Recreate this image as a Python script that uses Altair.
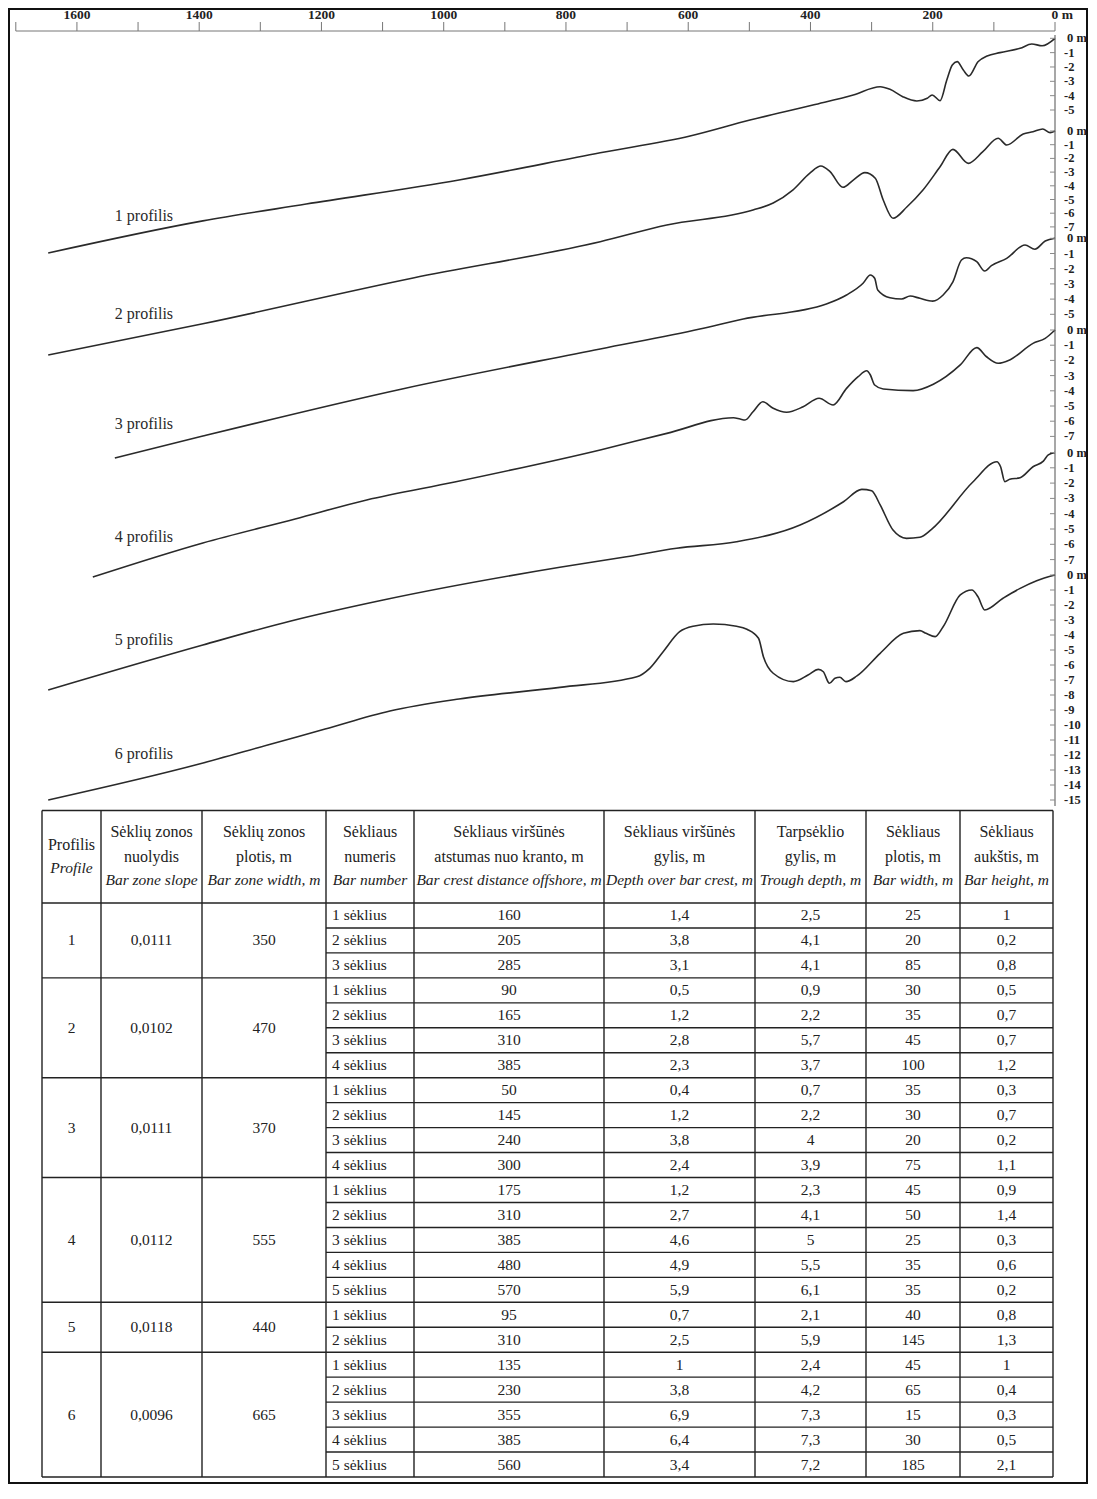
import altair as alt
import pandas as pd

FONT = "Liberation Serif"
INK = "#222222"
W, H = 1080, 1476

# ---------------- profile data: distance offshore (m) and depth (m) ----------------
PROFILE_NAMES = ["1 profilis", "2 profilis", "3 profilis", "4 profilis", "5 profilis", "6 profilis"]

P1_DIST = [1647, 1394, 1225, 975, 744, 597, 499, 396, 330, 286, 270, 249, 226, 209, 201, 188, 177, 168, 160, 150, 141, 126, 111, 90, 57, 38, 21, 0]
P1_DEPTH = [14.97, 12.73, 11.56, 9.88, 7.98, 6.81, 5.70, 4.65, 3.95, 3.38, 3.56, 4.07, 4.37, 4.18, 3.95, 4.35, 2.91, 1.86, 1.63, 2.21, 2.63, 1.63, 1.23, 1.0, 0.70, 0.40, 0.52, 0]

P2_DIST = [1647, 1394, 1050, 744, 635, 494, 461, 429, 401, 383, 368, 347, 330, 311, 294, 281, 265, 242, 216, 188, 167, 142, 118, 93, 79, 52, 36, 20, 8, 0]
P2_DEPTH = [16.35, 14.07, 10.73, 8.08, 6.86, 5.77, 5.26, 4.31, 3.07, 2.55, 2.97, 4.11, 3.58, 3.04, 3.45, 5.04, 6.37, 5.53, 4.31, 2.61, 1.34, 2.36, 1.51, 0.53, 1.02, 0.22, 0.05, -0.15, 0.12, 0]

P3_DIST = [1538, 1394, 1068, 744, 581, 510, 374, 341, 314, 302, 295, 290, 270, 251, 237, 221, 200, 183, 167, 153, 145, 128, 115, 104, 79, 49, 33, 16, 0]
P3_DEPTH = [14.45, 13.01, 9.91, 7.28, 5.97, 5.31, 4.32, 3.73, 2.96, 2.41, 2.63, 3.40, 3.91, 3.99, 3.80, 3.95, 4.13, 3.73, 2.86, 1.43, 1.28, 1.54, 2.15, 1.80, 1.32, 0.44, 0.72, 0.18, 0]

P4_DIST = [1574, 1394, 1243, 1126, 982, 744, 635, 526, 515, 507, 494, 478, 461, 439, 412, 386, 363, 341, 322, 308, 302, 295, 281, 232, 199, 155, 128, 112, 93, 74, 36, 16, 0]
P4_DEPTH = [16.25, 14.01, 12.43, 11.18, 10.0, 7.89, 6.80, 5.77, 5.86, 5.92, 5.38, 4.72, 5.15, 5.41, 5.05, 4.49, 4.93, 3.84, 3.07, 2.68, 2.96, 3.62, 3.88, 3.99, 3.57, 2.30, 1.16, 1.76, 2.19, 1.97, 0.88, 0.55, 0]

P5_DIST = [1647, 1394, 1250, 1099, 810, 701, 619, 521, 417, 346, 316, 300, 286, 265, 243, 221, 202, 134, 95, 89, 82, 74, 57, 36, 19, 11, 0]
P5_DEPTH = [15.52, 12.58, 11.01, 9.64, 7.50, 6.81, 6.26, 5.83, 4.74, 3.22, 2.41, 2.50, 3.43, 5.07, 5.61, 5.54, 5.02, 1.91, 0.60, 0.93, 1.91, 1.75, 1.65, 0.93, 0.56, 0.16, 0]

P6_DIST = [1647, 1400, 1288, 1194, 1088, 975, 810, 684, 663, 641, 614, 592, 559, 521, 504, 485, 477, 461, 428, 404, 387, 379, 369, 360, 352, 342, 324, 286, 248, 221, 211, 196, 183, 155, 136, 126, 115, 85, 57, 30, 0]
P6_DEPTH = [15.0, 12.6, 11.33, 10.27, 9.07, 8.27, 7.49, 6.78, 6.22, 5.11, 3.78, 3.42, 3.27, 3.42, 3.62, 4.22, 5.45, 6.55, 7.11, 6.67, 6.29, 6.45, 7.22, 6.89, 6.82, 7.11, 6.73, 5.22, 3.89, 3.71, 3.89, 4.11, 3.45, 1.33, 1.0, 1.45, 2.33, 1.55, 0.89, 0.38, 0]

PROFILES = [(P1_DIST, P1_DEPTH), (P2_DIST, P2_DEPTH), (P3_DIST, P3_DEPTH),
            (P4_DIST, P4_DEPTH), (P5_DIST, P5_DEPTH), (P6_DIST, P6_DEPTH)]

DEPTH_TICK_MAX = [5, 7, 5, 7, 7, 15]
NAME_DIST = [1538, 1538, 1538, 1538, 1538, 1538]
NAME_DEPTH = [12.39, 13.36, 12.22, 13.62, 12.25, 11.93]

DIST_TICKS = [1700, 1600, 1500, 1400, 1300, 1200, 1100, 1000, 900, 800, 700, 600, 500, 400, 300, 200, 100, 0]
DIST_LABELS = [1600, 1400, 1200, 1000, 800, 600, 400, 200]

# ---------------- table data ----------------
TAB_PROFILE = ["1", "2", "3", "4", "5", "6"]
TAB_SLOPE = ["0,0111", "0,0102", "0,0111", "0,0112", "0,0118", "0,0096"]
TAB_ZONE_W = ["350", "470", "370", "555", "440", "665"]
BARS_PER_PROFILE = [3, 4, 4, 5, 2, 5]
BAR_DIST = ["160", "205", "285", "90", "165", "310", "385", "50", "145", "240", "300",
            "175", "310", "385", "480", "570", "95", "310", "135", "230", "355", "385", "560"]
BAR_DEPTH = ["1,4", "3,8", "3,1", "0,5", "1,2", "2,8", "2,3", "0,4", "1,2", "3,8", "2,4",
             "1,2", "2,7", "4,6", "4,9", "5,9", "0,7", "2,5", "1", "3,8", "6,9", "6,4", "3,4"]
TROUGH = ["2,5", "4,1", "4,1", "0,9", "2,2", "5,7", "3,7", "0,7", "2,2", "4", "3,9",
          "2,3", "4,1", "5", "5,5", "6,1", "2,1", "5,9", "2,4", "4,2", "7,3", "7,3", "7,2"]
BAR_W = ["25", "20", "85", "30", "35", "45", "100", "35", "30", "20", "75",
         "45", "50", "25", "35", "35", "40", "145", "45", "65", "15", "30", "185"]
BAR_H = ["1", "0,2", "0,8", "0,5", "0,7", "0,7", "1,2", "0,3", "0,7", "0,2", "1,1",
         "0,9", "1,4", "0,3", "0,6", "0,2", "0,8", "1,3", "1", "0,4", "0,3", "0,5", "2,1"]

HEAD_L1 = ["Sėklių zonos", "Sėklių zonos", "Sėkliaus", "Sėkliaus viršūnės", "Sėkliaus viršūnės",
           "Tarpsėklio", "Sėkliaus", "Sėkliaus"]
HEAD_L2 = ["nuolydis", "plotis, m", "numeris", "atstumas nuo kranto, m", "gylis, m",
           "gylis, m", "plotis, m", "aukštis, m"]
HEAD_EN = ["Bar zone slope", "Bar zone width, m", "Bar number", "Bar crest distance offshore, m",
           "Depth over bar crest, m", "Trough depth, m", "Bar width, m", "Bar height, m"]

# ---------------- layout (pixels inside the chart) ----------------
X_RANGE = [1047, 7.8]              # where 0 m and 1700 m sit
ZERO_PX = [30.3, 123, 230.3, 322, 444.5, 567]
PX_PER_M = [14.34, 13.7, 15.2, 15.2, 15.3, 15.0]
COL_EDGES = [34, 93, 194, 318, 406, 596, 747, 858, 952, 1045]
ROW_EDGES = [802.5, 895, 1469]

xs = alt.Scale(domain=[0, 1700], range=X_RANGE, nice=False, zero=False)


def X(field):
    return alt.X(field, scale=xs, axis=None)


# ---- top distance axis ----
tick_df = pd.DataFrame({"d": DIST_TICKS})
lab_df = pd.DataFrame({"d": DIST_LABELS, "t": [str(v) for v in DIST_LABELS]})
zero_df = pd.DataFrame({"d": [0], "t": ["0 m"]})
axis_line_df = pd.DataFrame({"a": [max(DIST_TICKS)], "b": [0]})

top_line = alt.Chart(axis_line_df).mark_rule(color="#777777", strokeWidth=1).encode(
    x=X("a:Q"), x2="b:Q", y=alt.value(23))
top_ticks = alt.Chart(tick_df).mark_rule(color="#777777", strokeWidth=1).encode(
    x=X("d:Q"), y=alt.value(14), y2=alt.value(23))
top_labels = alt.Chart(lab_df).mark_text(font=FONT, fontSize=13.5, fontWeight="bold", color=INK,
                                         baseline="middle", align="center").encode(
    x=X("d:Q"), y=alt.value(6.5), text="t:N")
top_zero = alt.Chart(zero_df).mark_text(font=FONT, fontSize=13.5, fontWeight="bold", color=INK,
                                        baseline="middle", align="left", dx=-3.5).encode(
    x=X("d:Q"), y=alt.value(6.5), text="t:N")
right_line = alt.Chart(axis_line_df).mark_rule(color="#8a8a8a", strokeWidth=1.5).encode(
    x=X("b:Q"), y=alt.value(27), y2=alt.value(798))

layers = [top_line, top_ticks, top_labels, top_zero, right_line]

for i, (dist, depth) in enumerate(PROFILES):
    ys = alt.Scale(domain=[0, 20], range=[ZERO_PX[i], ZERO_PX[i] + 20 * PX_PER_M[i]],
                   nice=False, zero=False)
    Y = lambda f, ys=ys: alt.Y(f, scale=ys, axis=None)
    pdf = pd.DataFrame({"dist": dist, "depth": depth})
    n = DEPTH_TICK_MAX[i]
    tdf = pd.DataFrame({"dep": list(range(0, n + 1))})
    tdf["t"] = ["0 m" if v == 0 else "-" + str(v) for v in tdf["dep"]]
    line = alt.Chart(pdf).mark_line(color="#2a2a2a", strokeWidth=1.6, interpolate="monotone").encode(
        x=X("dist:Q"), y=Y("depth:Q"), order=alt.Order("dist:Q", sort="descending"))
    ticks = alt.Chart(tdf).mark_rule(color="#8a8a8a", strokeWidth=1).encode(
        x=alt.value(1042), x2=alt.value(1047), y=Y("dep:Q"))
    lab0 = alt.Chart(tdf[tdf["dep"] == 0]).mark_text(
        font=FONT, fontSize=12.5, fontWeight="bold", color=INK, align="left", baseline="middle", dx=12).encode(
        x=alt.value(1047), y=Y("dep:Q"), text="t:N")
    labn = alt.Chart(tdf[tdf["dep"] > 0]).mark_text(
        font=FONT, fontSize=12.5, fontWeight="bold", color=INK, align="left", baseline="middle", dx=9).encode(
        x=alt.value(1047), y=Y("dep:Q"), text="t:N")
    ndf = pd.DataFrame({"dist": [NAME_DIST[i]], "depth": [NAME_DEPTH[i]], "t": [PROFILE_NAMES[i]]})
    name = alt.Chart(ndf).mark_text(font=FONT, fontSize=16, color="#2a2a2a", align="left",
                                    baseline="middle").encode(
        x=X("dist:Q"), y=Y("depth:Q"), text="t:N")
    layers.append(alt.layer(line, ticks, lab0, labn, name))

profiles_all = alt.layer(*layers).resolve_scale(y="independent")

# ---------------- table ----------------
tx = alt.Scale(domain=list(range(len(COL_EDGES))), range=COL_EDGES, nice=False, zero=False)
ty = alt.Scale(domain=[0, 1, 1 + sum(BARS_PER_PROFILE)], range=ROW_EDGES, nice=False, zero=False)
TX = lambda f: alt.X(f, scale=tx, axis=None)
TY = lambda f: alt.Y(f, scale=ty, axis=None)

nrows = sum(BARS_PER_PROFILE)
starts = []
s = 0
for n in BARS_PER_PROFILE:
    starts.append(s)
    s += n

# grid lines
h_rows = []
for r in range(0, nrows + 1):
    full = (r in starts) or r == nrows
    h_rows.append({"x0": 0 if full else 3, "x1": 9, "y": 1 + r})
h_rows.append({"x0": 0, "x1": 9, "y": 0})
hdf = pd.DataFrame(h_rows)
vdf = pd.DataFrame({"x": list(range(10)), "y0": [0] * 10, "y1": [1 + nrows] * 10})

hlines = alt.Chart(hdf).mark_rule(color=INK, strokeWidth=1.4).encode(
    x=TX("x0:Q"), x2="x1:Q", y=TY("y:Q"))
vlines = alt.Chart(vdf).mark_rule(color=INK, strokeWidth=1.4).encode(
    x=TX("x:Q"), y=TY("y0:Q"), y2="y1:Q")

# header text
head_rows = [{"cx": 0.5, "cy": 0.376, "t": "Profilis", "it": False},
             {"cx": 0.5, "cy": 0.624, "t": "Profile", "it": True}]
for c in range(8):
    head_rows.append({"cx": c + 1.5, "cy": 0.237, "t": HEAD_L1[c], "it": False})
    head_rows.append({"cx": c + 1.5, "cy": 0.505, "t": HEAD_L2[c], "it": False})
    head_rows.append({"cx": c + 1.5, "cy": 0.753, "t": HEAD_EN[c], "it": True})
head_df = pd.DataFrame(head_rows)
head_norm = alt.Chart(head_df[~head_df["it"]]).mark_text(
    font=FONT, fontSize=16, color=INK, align="center", baseline="middle").encode(
    x=TX("cx:Q"), y=TY("cy:Q"), text="t:N")
head_ital = alt.Chart(head_df[head_df["it"]]).mark_text(
    font=FONT, fontSize=15.5, fontStyle="italic", color=INK, align="center", baseline="middle").encode(
    x=TX("cx:Q"), y=TY("cy:Q"), text="t:N")

# merged group cells
grp_rows = []
for g in range(len(TAB_PROFILE)):
    cy = 1 + starts[g] + BARS_PER_PROFILE[g] / 2
    grp_rows += [{"cx": 0.5, "cy": cy, "t": TAB_PROFILE[g]},
                 {"cx": 1.5, "cy": cy, "t": TAB_SLOPE[g]},
                 {"cx": 2.5, "cy": cy, "t": TAB_ZONE_W[g]}]

# bar rows
bar_no = [str(j + 1) + " sėklius" for n in BARS_PER_PROFILE for j in range(n)]
body_rows = []
num_rows = []
for r in range(nrows):
    cy = 1 + r + 0.5
    body_rows.append({"cx": 3, "cy": cy, "t": bar_no[r]})
    for c, col in zip([4, 5, 6, 7, 8], [BAR_DIST, BAR_DEPTH, TROUGH, BAR_W, BAR_H]):
        num_rows.append({"cx": c + 0.5, "cy": cy, "t": col[r]})
body_df = pd.DataFrame(body_rows)
num_df = pd.DataFrame(grp_rows + num_rows)

body_left = alt.Chart(body_df).mark_text(
    font=FONT, fontSize=15.5, color=INK, align="left", baseline="middle", dx=6).encode(
    x=TX("cx:Q"), y=TY("cy:Q"), text="t:N")
body_num = alt.Chart(num_df).mark_text(
    font=FONT, fontSize=15.5, color=INK, align="center", baseline="middle").encode(
    x=TX("cx:Q"), y=TY("cy:Q"), text="t:N")

table_all = alt.layer(hlines, vlines, head_norm, head_ital, body_left, body_num)

# ---------------- frame ----------------
border = alt.Chart(pd.DataFrame({"k": [0]})).mark_rect(
    filled=False, stroke="#111111", strokeWidth=2).encode(
    x=alt.value(1), x2=alt.value(W - 1), y=alt.value(1), y2=alt.value(H - 1))

chart = alt.layer(border, profiles_all, table_all).resolve_scale(
    x="independent", y="independent").properties(
    width=W, height=H, padding=0, background="white",
    autosize=alt.AutoSizeParams(type="none")).configure_view(strokeWidth=0)

chart.save("out.html", embed_options={"renderer": "svg", "actions": False})
